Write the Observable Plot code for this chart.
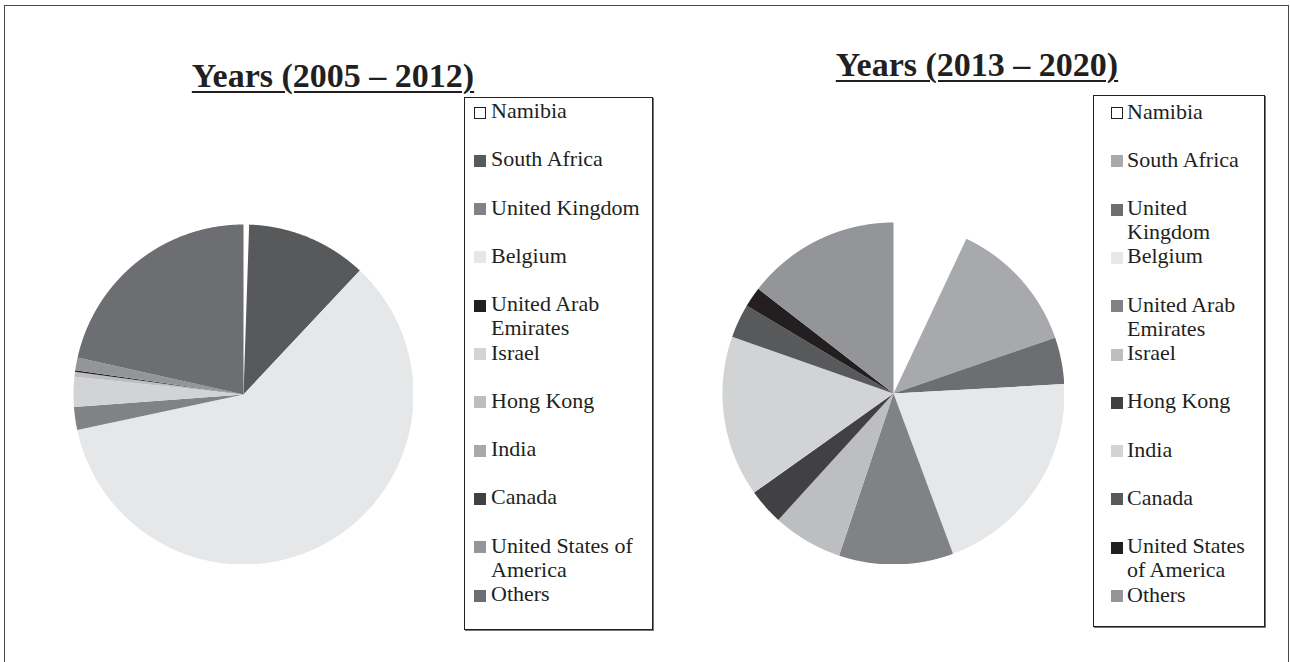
<!DOCTYPE html>
<html>
<head>
<meta charset="utf-8">
<script src="https://cdn.jsdelivr.net/npm/d3@7"></script>
<script src="https://cdn.jsdelivr.net/npm/@observablehq/plot@0.6"></script>
<style>
  html, body { margin: 0; padding: 0; background: #fff; }
  body { width: 1290px; height: 662px; overflow: hidden; position: relative;
         font-family: "Liberation Serif", "Times New Roman", serif; color: #231f20; }
  #frame { position: absolute; left: 4px; top: 5px; width: 1285px; height: 720px;
           border: 1.5px solid #4a4a4a; box-sizing: border-box; }
  .title { position: absolute; font-weight: bold; font-size: 34px; line-height: 34px;
           white-space: nowrap; transform: translateX(-50%);
           text-decoration: underline; text-decoration-thickness: 2px; text-underline-offset: 4px; }
  .legend { position: absolute; border: 1px solid #231f20; box-shadow: 1px 1px 0 #777;
            box-sizing: border-box; background: #fff; }
  .item { position: relative; min-height: 48.3px; line-height: 24.15px; font-size: 22px; }
  .sw { position: absolute; width: 12px; height: 12px; top: 7.5px; box-sizing: border-box; }
  .pie { position: absolute; }
  .pie svg { display: block; }
</style>
</head>
<body>
<div id="frame"></div>
<div id="root"></div>
<script>
// ---------- data ----------
const countries = ["Namibia", "South Africa", "United Kingdom", "Belgium", "United Arab Emirates",
  "Israel", "Hong Kong", "India", "Canada", "United States of America", "Others"];

// shares (%)
const leftValues  = [0.53, 11.47, 2.17, 59.67, 0.15, 2.83, 0.47, 0, 0, 1.22, 21.5];
const rightValues = [7.0, 12.7, 4.4, 20.2, 10.8, 6.6, 3.4, 15.2, 3.2, 1.9, 14.5];

const leftColors  = ["#ffffff", "#58595b", "#808285", "#e6e7e8", "#231f20", "#d1d3d4",
  "#bcbec0", "#a7a9ac", "#414042", "#939598", "#6d6e71"];
const rightColors = ["#ffffff", "#a7a9ac", "#6d6e71", "#e6e7e8", "#808285", "#bcbec0",
  "#414042", "#d1d3d4", "#58595b", "#231f20", "#939598"];

// order of slices clockwise from 12 o'clock
const leftSliceOrder = ["Namibia", "South Africa", "India", "Canada", "Belgium", "United Kingdom",
  "Israel", "Hong Kong", "United Arab Emirates", "United States of America", "Others"];
const rightSliceOrder = countries;

const titles = ["Years (2005 – 2012)", "Years (2013 – 2020)"];

// ---------- helpers ----------
function sliceFeatures(order, values) {
  const rows = order.map(n => ({country: n, value: values[countries.indexOf(n)]}));
  const arcs = d3.pie().sort(null).value(d => d.value)(rows);
  return arcs.filter(a => a.data.value > 0).map(a => {
    const pts = [[0, 0]];
    const n = Math.max(2, Math.ceil((a.endAngle - a.startAngle) / 0.004));
    for (let k = 0; k <= n; k++) {
      const t = a.startAngle + (a.endAngle - a.startAngle) * k / n;
      pts.push([Math.sin(t), -Math.cos(t)]);
    }
    pts.push([0, 0]);
    return {type: "Feature", properties: {country: a.data.country},
            geometry: {type: "Polygon", coordinates: [pts]}};
  });
}

function pie(order, values, colors, size) {
  return Plot.plot({
    width: size, height: size, margin: 0,
    projection: {type: "identity", domain: {type: "MultiPoint", coordinates: [[-1, -1], [1, 1]]}},
    color: {domain: countries, range: colors},
    marks: [
      Plot.geo(sliceFeatures(order, values), {fill: d => d.properties.country})
    ]
  });
}

function legend(colors, box, textWidth, swLeft, textLeft, padTop) {
  const div = document.createElement("div");
  div.className = "legend";
  Object.assign(div.style, {left: box.x + "px", top: box.y + "px", width: box.w + "px",
    height: box.h + "px", paddingTop: padTop + "px"});
  countries.forEach((c, i) => {
    const item = document.createElement("div");
    item.className = "item";
    const sw = document.createElement("div");
    sw.className = "sw";
    sw.style.left = swLeft + "px";
    sw.style.background = colors[i];
    if (colors[i] === "#ffffff") sw.style.border = "1px solid #231f20";
    const tx = document.createElement("div");
    tx.style.marginLeft = textLeft + "px";
    tx.style.width = textWidth + "px";
    tx.textContent = c;
    item.appendChild(sw);
    item.appendChild(tx);
    div.appendChild(item);
  });
  return div;
}

function title(text, cx, top) {
  const t = document.createElement("div");
  t.className = "title";
  t.style.left = cx + "px";
  t.style.top = top + "px";
  t.textContent = text;
  return t;
}

// ---------- layout ----------
const root = document.getElementById("root");

root.appendChild(title(titles[0], 333, 58.8));
root.appendChild(title(titles[1], 977, 48.2));

const p1 = document.createElement("div");
p1.className = "pie";
p1.style.left = "72.7px"; p1.style.top = "224.3px";
p1.appendChild(pie(leftSliceOrder, leftValues, leftColors, 340));
root.appendChild(p1);

const p2 = document.createElement("div");
p2.className = "pie";
p2.style.left = "722.3px"; p2.style.top = "222.3px";
p2.appendChild(pie(rightSliceOrder, rightValues, rightColors, 342));
root.appendChild(p2);

root.appendChild(legend(leftColors, {x: 464, y: 97, w: 189, h: 533}, 160, 9, 26, 1));
root.appendChild(legend(rightColors, {x: 1093, y: 95, w: 172, h: 532}, 134, 17, 33, 3.5));
</script>
</body>
</html>
